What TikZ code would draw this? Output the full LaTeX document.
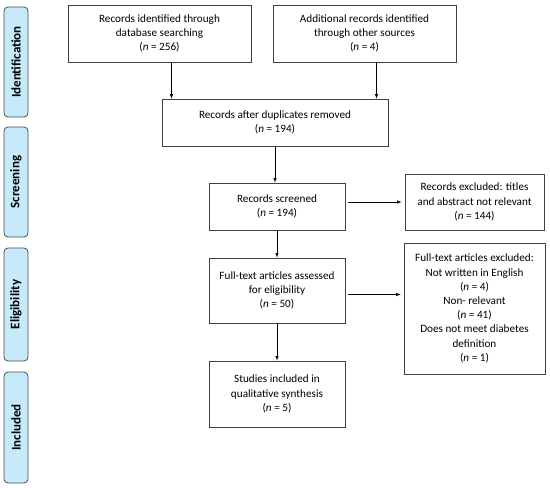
\documentclass[tikz,border=0pt]{standalone}
\usepackage{fontspec}
\setmainfont{Carlito}
\definecolor{phase}{HTML}{C6EAFA}
\tikzset{
  box/.style={draw=black!75,line width=0.8pt,align=center,inner sep=2pt,
    font=\fontsize{11.2}{14.2}\selectfont},
  phasebox/.style={draw=black!70,line width=0.8pt,fill=phase,rounded corners=4pt,
    rotate=90,minimum height=24pt,inner sep=0pt,font=\fontsize{13}{14}\selectfont\bfseries},
  arrow/.style={->,>=latex,line width=0.6pt}
}
\begin{document}
\begin{tikzpicture}[x=1pt,y=-1pt]
\useasboundingbox (0,0) rectangle (550,488);
% phases
\node[phasebox,minimum width=110pt] (idf) at (16,62) {Identification};
\node[phasebox,minimum width=110pt] (scn) at (16,182) {Screening};
\node[phasebox,minimum width=113pt] (elg) at (16,304.5) {Eligibility};
\node[phasebox,minimum width=111pt] (inc) at (16,427.5) {Included};
% flow
\node[box,minimum width=183pt,minimum height=57pt] (rec) at (159.5,33.5)
  {Records identified through\\database searching\\(\textit{n} = 256)};
\node[box,minimum width=183pt,minimum height=57pt] (add) at (364.5,33.5)
  {Additional records identified\\through other sources\\(\textit{n} = 4)};
\node[box,minimum width=226pt,minimum height=47pt] (dup) at (275,122.5)
  {Records after duplicates removed\\(\textit{n} = 194)};
\node[box,minimum width=136pt,minimum height=47pt] (scr) at (277,206.5)
  {Records screened\\(\textit{n} = 194)};
\node[box,minimum width=139pt,minimum height=56pt] (excl) at (474.5,202)
  {Records excluded: titles\\and abstract not relevant\\(\textit{n} = 144)};
\node[box,minimum width=136pt,minimum height=65pt] (full) at (277,290.5)
  {Full-text articles assessed\\for eligibility\\(\textit{n} = 50)};
\node[box,minimum width=141pt,minimum height=131pt] (fexcl) at (474.5,308.5)
  {Full-text articles excluded:\\Not written in English\\(\textit{n} = 4)\\Non- relevant\\(\textit{n} = 41)\\Does not meet diabetes\\definition\\(\textit{n} = 1)};
\node[box,minimum width=136pt,minimum height=66pt] (incl) at (277,394)
  {Studies included in\\qualitative synthesis\\(\textit{n} = 5)};
% arrows
\draw[arrow] ([xshift=12pt]rec.south) -- ([xshift=12pt]rec.south |- dup.north);
\draw[arrow] ([xshift=12pt]add.south) -- ([xshift=12pt]add.south |- dup.north);
\draw[arrow] (dup.south) -- (dup.south |- scr.north);
\draw[arrow,shorten <=3pt,shorten >=3pt] (scr.east |- excl.west) -- (excl.west);
\draw[arrow] (scr.south) -- (full.north);
\draw[arrow,shorten <=3pt,shorten >=3pt] ([yshift=-4pt]full.east) -- ([yshift=-4pt]full.east -| fexcl.west);
\draw[arrow] (full.south) -- (incl.north);
\end{tikzpicture}
\end{document}
